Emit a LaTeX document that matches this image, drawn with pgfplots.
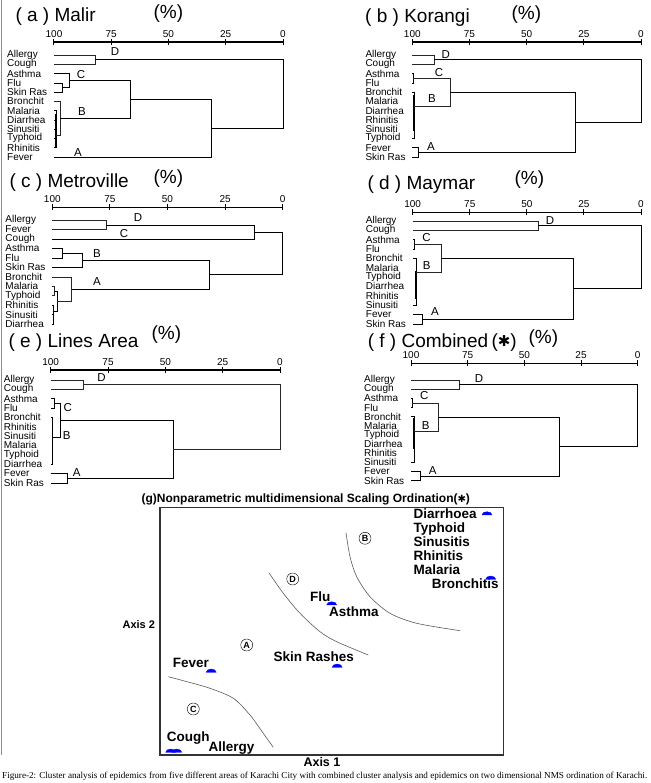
\documentclass[border=0pt]{standalone}
\usepackage{fontspec}
\setmainfont{Liberation Sans}
\newfontfamily\capfont{Liberation Serif}
\newfontfamily\dejavu{DejaVu Sans}
\usepackage{graphicx}
\usepackage{pgfplots}
\pgfplotsset{compat=1.18}

\pgfdeclareplotmark{mound}{%
  \pgfpathmoveto{\pgfqpoint{-\pgfplotmarksize}{0pt}}%
  \pgfpatharc{180}{0}{\pgfplotmarksize and 0.65\pgfplotmarksize}%
  \pgfpathclose
  \pgfusepathqfillstroke}

\newcommand\tf{\fontsize{19}{19}\selectfont}
\newcommand\lf{\fontsize{11.5}{11.5}\selectfont}
\newcommand\gf{\fontsize{13.5}{13.5}\selectfont\bfseries}

\pgfplotsset{dendro/.style={
  scale only axis, x dir=reverse, xmin=0, xmax=100, ymin=-11.5,
  axis x line*=top, axis y line*=left,
  x axis line style={-, line width=1.3pt, black},
  y axis line style={draw=none},
  ytick={0,-1,-2,-3,-4,-5,-6,-7,-8,-9,-10,-11},
  ytick style={draw=none},
  yticklabel style={anchor=west, inner sep=0pt, xshift=-44pt, font=\fontsize{10}{10}\selectfont},
  xtick={0,25,50,75,100},
  xtick style={line width=1pt, black},
  tick align=center, major tick length=6pt,
  xticklabel style={font=\fontsize{10}{10}\selectfont, inner sep=1.5pt},
  /pgf/number format/assume math mode=true,
  clip=false,
  cycle list={{black!85, solid, mark=none, line width=0.6pt}},
}}

\begin{document}
\begin{tikzpicture}[x=1pt,y=1pt]
\useasboundingbox (0,0) rectangle (650,783);
\draw[black!45, line width=0.8pt] (1.5,783) -- (1.5,28);

% ---------------- (a) Malir
\node[anchor=base west, font=\tf] at (12,761.3) {( a ) Malir};
\node[anchor=base west, font=\tf] at (150,764.7) {(\%)};
\begin{axis}[dendro, at={(54pt,621.4pt)}, anchor=south west, width=229pt, height=119.6pt, ymax=1.402,
  yticklabels={Allergy,Cough,Asthma,Flu,Skin Ras,Bronchit,Malaria,Diarrhea,Sinusiti,Typhoid,Rhinitis,Fever}]
\addplot coordinates {(100,0) (82,0) (82,-1) (100,-1)};
\addplot coordinates {(100,-3) (96.5,-3) (96.5,-4) (100,-4)};
\addplot coordinates {(100,-2) (93.3,-2) (93.3,-3.5) (96.5,-3.5)};
\addplot coordinates {(100,-6) (99,-6) (99,-10) (100,-10)};
\addplot coordinates {(100,-7) (99,-7)};
\addplot coordinates {(100,-8) (99,-8)};
\addplot coordinates {(100,-9) (99,-9)};
\addplot[line width=1.5pt, black] coordinates {(99.2,-6.4) (99.2,-10)};
\addplot coordinates {(100,-5) (97.5,-5) (97.5,-8.7) (99,-8.7)};
\addplot coordinates {(93.3,-2.75) (66.8,-2.75) (66.8,-6.85) (97.5,-6.85)};
\addplot coordinates {(100,-11) (31.4,-11) (31.4,-4.8) (66.8,-4.8)};
\addplot coordinates {(82,-0.5) (0,-0.5) (0,-7.9) (31.4,-7.9)};
\node[font=\lf] at (axis cs:73.4,0.32) {D};
\node[font=\lf] at (axis cs:88.2,-2.16) {C};
\node[font=\lf] at (axis cs:87.8,-6.15) {B};
\node[font=\lf] at (axis cs:89.5,-10.57) {A};
\end{axis}

% ---------------- (b) Korangi
\node[anchor=base west, font=\tf] at (361.7,760) {( b ) Korangi};
\node[anchor=base west, font=\tf] at (508,763.7) {(\%)};
\begin{axis}[dendro, at={(412.3pt,621.4pt)}, anchor=south west, width=228.7pt, height=119.6pt, ymax=1.402,
  yticklabels={Allergy,Cough,Asthma,Flu,Bronchit,Malaria,Diarrhea,Rhinitis,Sinusiti,Typhoid,Fever,Skin Ras}]
\addplot coordinates {(100,0) (90.5,0) (90.5,-1) (100,-1)};
\addplot coordinates {(100,-2) (99.5,-2) (99.5,-3) (100,-3)};
\addplot coordinates {(100,-4) (99.3,-4) (99.3,-9) (100,-9)};
\addplot[line width=1.4pt, black] coordinates {(99.3,-4.3) (99.3,-8.2)};
\addplot coordinates {(99.5,-2.5) (83.5,-2.5) (83.5,-5.5) (99.3,-5.5)};
\addplot coordinates {(100,-10) (97.5,-10) (97.5,-11) (100,-11)};
\addplot coordinates {(83.5,-4) (28.9,-4) (28.9,-10.5) (97.5,-10.5)};
\addplot coordinates {(90.5,-0.5) (0,-0.5) (0,-7.25) (28.9,-7.25)};
\node[font=\lf] at (axis cs:85.4,0.05) {D};
\node[font=\lf] at (axis cs:88.3,-1.94) {C};
\node[font=\lf] at (axis cs:91.4,-4.75) {B};
\node[font=\lf] at (axis cs:91.8,-9.92) {A};
\end{axis}

% ---------------- (c) Metroville
\node[anchor=base west, font=\tf] at (6,595) {( c ) Metroville};
\node[anchor=base west, font=\tf] at (150,599.7) {(\%)};
\begin{axis}[dendro, at={(52.3pt,454.3pt)}, anchor=south west, width=230.4pt, height=121.4pt, ymax=1.344,
  yticklabels={Allergy,Fever,Cough,Asthma,Flu,Skin Ras,Bronchit,Malaria,Typhoid,Rhinitis,Sinusiti,Diarrhea}]
\addplot coordinates {(100,0) (76.7,0) (76.7,-1) (100,-1)};
\addplot coordinates {(76.7,-0.5) (12.3,-0.5) (12.3,-2) (100,-2)};
\addplot coordinates {(100,-3) (95.9,-3) (95.9,-4) (100,-4)};
\addplot coordinates {(95.9,-3.5) (86.8,-3.5) (86.8,-5) (100,-5)};
\addplot coordinates {(100,-7) (99.3,-7) (99.3,-8) (100,-8)};
\addplot coordinates {(100,-9) (99.8,-9) (99.8,-11) (100,-11)};
\addplot coordinates {(100,-10) (99.8,-10)};
\addplot coordinates {(99.3,-7.5) (97.8,-7.5) (97.8,-9.7) (99.8,-9.7)};
\addplot coordinates {(100,-6) (91.6,-6) (91.6,-8.6) (97.8,-8.6)};
\addplot coordinates {(86.8,-4.25) (32,-4.25) (32,-7.3) (91.6,-7.3)};
\addplot coordinates {(12.3,-1.25) (0,-1.25) (0,-5.78) (32,-5.78)};
\node[font=\lf] at (axis cs:62.8,0.21) {D};
\node[font=\lf] at (axis cs:68.9,-1.48) {C};
\node[font=\lf] at (axis cs:80.6,-3.6) {B};
\node[font=\lf] at (axis cs:80.6,-6.56) {A};
\end{axis}

% ---------------- (d) Maymar
\node[anchor=base west, font=\tf] at (364,593) {( d ) Maymar};
\node[anchor=base west, font=\tf] at (511,598.7) {(\%)};
\begin{axis}[dendro, at={(412.7pt,454.6pt)}, anchor=south west, width=228.3pt, height=116.1pt, ymax=0.931,
  yticklabels={Allergy,Cough,Asthma,Flu,Bronchit,Malaria,Typhoid,Diarrhea,Rhinitis,Sinusiti,Fever,Skin Ras}]
\addplot coordinates {(100,0) (45,0) (45,-1) (100,-1)};
\addplot coordinates {(100,-2) (99.3,-2) (99.3,-3) (100,-3)};
\addplot coordinates {(100,-4) (98.5,-4) (98.5,-9) (100,-9)};
\addplot[line width=1.4pt, black] coordinates {(98.5,-5.4) (98.5,-8.3)};
\addplot coordinates {(99.3,-2.5) (87.6,-2.5) (87.6,-5.5) (98.5,-5.5)};
\addplot coordinates {(100,-10) (96,-10) (96,-11) (100,-11)};
\addplot coordinates {(87.6,-4) (29.9,-4) (29.9,-10.5) (96,-10.5)};
\addplot coordinates {(45,-0.5) (0,-0.5) (0,-7.25) (29.9,-7.25)};
\node[font=\lf] at (axis cs:39.9,0.1) {D};
\node[font=\lf] at (axis cs:93.9,-1.79) {C};
\node[font=\lf] at (axis cs:93.9,-4.79) {B};
\node[font=\lf] at (axis cs:90.2,-9.71) {A};
\end{axis}

% ---------------- (e) Lines Area
\node[anchor=base west, font=\tf] at (5,435.7) {( e ) Lines Area};
\node[anchor=base west, font=\tf] at (148,443) {(\%)};
\begin{axis}[dendro, at={(50.7pt,295.6pt)}, anchor=south west, width=229.3pt, height=117.4pt, ymax=1.071,
  yticklabels={Allergy,Cough,Asthma,Flu,Bronchit,Rhinitis,Sinusiti,Malaria,Typhoid,Diarrhea,Fever,Skin Ras}]
\addplot coordinates {(100,0) (85.8,0) (85.8,-1) (100,-1)};
\addplot coordinates {(100,-2) (98.6,-2) (98.6,-3) (100,-3)};
\addplot coordinates {(100,-4) (99.3,-4) (99.3,-9) (100,-9)};
\addplot[line width=1.4pt, black] coordinates {(99.3,-4.8) (99.3,-5.9)};
\addplot[line width=1.4pt, black] coordinates {(99.3,-6.8) (99.3,-7.8)};
\addplot coordinates {(98.6,-2.5) (95.9,-2.5) (95.9,-6.13) (99.3,-6.13)};
\addplot coordinates {(100,-10) (92.6,-10) (92.6,-11) (100,-11)};
\addplot coordinates {(95.9,-4.3) (46.5,-4.3) (46.5,-10.5) (92.6,-10.5)};
\addplot coordinates {(85.8,-0.5) (0,-0.5) (0,-7.4) (46.5,-7.4)};
\node[font=\lf] at (axis cs:77.8,0.29) {D};
\node[font=\lf] at (axis cs:92.6,-2.92) {C};
\node[font=\lf] at (axis cs:93.0,-6.0) {B};
\node[font=\lf] at (axis cs:88.7,-9.93) {A};
\end{axis}

% ---------------- (f) Combined
\node[anchor=base west, font=\tf] at (364.3,435.7) {( f ) Combined};
\node[anchor=base west, font=\tf] at (488,435.7) {({\dejavu\fontsize{15}{15}\selectfont\raisebox{1pt}{✱}})};
\node[anchor=base west, font=\tf] at (525,439.7) {(\%)};
\begin{axis}[dendro, at={(411pt,297.8pt)}, anchor=south west, width=226.7pt, height=121.9pt, ymax=1.825,
  yticklabels={Allergy,Cough,Asthma,Flu,Bronchit,Malaria,Typhoid,Diarrhea,Rhinitis,Sinusiti,Fever,Skin Ras}]
\addplot coordinates {(100,0) (78.7,0) (78.7,-1) (100,-1)};
\addplot coordinates {(100,-2) (99.4,-2) (99.4,-3) (100,-3)};
\addplot coordinates {(100,-4) (98.8,-4) (98.8,-9) (100,-9)};
\addplot[line width=1.4pt, black] coordinates {(98.8,-4.2) (98.8,-7.5)};
\addplot coordinates {(99.4,-2.5) (88,-2.5) (88,-5.6) (98.8,-5.6)};
\addplot coordinates {(100,-10) (96,-10) (96,-11) (100,-11)};
\addplot coordinates {(88,-4.05) (34.6,-4.05) (34.6,-10.5) (96,-10.5)};
\addplot coordinates {(78.7,-0.5) (0,-0.5) (0,-7.28) (34.6,-7.28)};
\node[font=\lf] at (axis cs:70,0.19) {D};
\node[font=\lf] at (axis cs:94.1,-1.75) {C};
\node[font=\lf] at (axis cs:93.5,-5.0) {B};
\node[font=\lf] at (axis cs:90.4,-9.91) {A};
\end{axis}

% ---------------- (g) NMS
\node[anchor=base west, font=\fontsize{12}{12}\selectfont\bfseries] at (138,280)
  {(g)Nonparametric multidimensional Scaling Ordination({\dejavu\fontsize{10}{10}\selectfont ✱})};
\node[anchor=base east, font=\fontsize{11}{11}\selectfont\bfseries] at (158.5,154.7) {Axis 2};
\node[anchor=base west, font=\fontsize{12.5}{12.5}\selectfont\bfseries] at (300,16.3) {Axis 1};
\begin{axis}[scale only axis, at={(160pt,28pt)}, anchor=south west, width=343.3pt, height=247.3pt,
  xmin=160, xmax=503.3, ymin=28, ymax=275.3, xtick=\empty, ytick=\empty,
  axis line style={line width=1.1pt, black!80}, clip=false]
\addplot[smooth, black!65, line width=0.6pt] coordinates {(346,250.3) (350,226.3) (356.7,206.3) (370,186.3) (390,169.7) (416.7,159.7) (460,152.3)};
\addplot[smooth, black!65, line width=0.6pt] coordinates {(269.3,209.7) (283.3,189.7) (300,169.7) (320,151.3) (336.7,141.3) (368.3,128)};
\addplot[smooth, black!65, line width=0.6pt] coordinates {(168.3,106.3) (183.3,102.3) (210,94.7) (233.3,84.7) (250,68) (263.3,49.7) (273.3,35.7)};
\addplot[only marks, mark=mound, mark size=5pt, mark options={fill=blue, draw=blue}] coordinates
  {(487,268) (490.7,203.7) (331.7,178) (211.2,110.7) (337.2,115.7) (170.7,30.7) (176.7,30.7)};
\node[anchor=base west, font=\gf] at (axis cs:410,264.7) {Diarrhoea};
\node[anchor=base west, font=\gf] at (axis cs:410,250.3) {Typhoid};
\node[anchor=base west, font=\gf] at (axis cs:410,236.3) {Sinusitis};
\node[anchor=base west, font=\gf] at (axis cs:410,222.3) {Rhinitis};
\node[anchor=base west, font=\gf] at (axis cs:410,208.3) {Malaria};
\node[anchor=base west, font=\gf] at (axis cs:428.3,194.7) {Bronchitis};
\node[anchor=base west, font=\gf] at (axis cs:306.7,181.3) {Flu};
\node[anchor=base west, font=\gf] at (axis cs:325.7,166.3) {Asthma};
\node[anchor=base west, font=\gf] at (axis cs:169.3,115.3) {Fever};
\node[anchor=base west, font=\gf] at (axis cs:270,121.3) {Skin Rashes};
\node[anchor=base west, font=\gf] at (axis cs:163.3,41.3) {Cough};
\node[anchor=base west, font=\gf] at (axis cs:205,31.3) {Allergy};
\node[draw, circle, minimum size=12pt, inner sep=0pt, font=\fontsize{9}{9}\selectfont\bfseries] at (axis cs:365,244.7) {B};
\node[draw, circle, minimum size=12pt, inner sep=0pt, font=\fontsize{9}{9}\selectfont\bfseries] at (axis cs:292.7,204) {D};
\node[draw, circle, minimum size=12pt, inner sep=0pt, font=\fontsize{9}{9}\selectfont\bfseries] at (axis cs:246.7,138) {A};
\node[draw, circle, minimum size=12pt, inner sep=0pt, font=\fontsize{9}{9}\selectfont\bfseries] at (axis cs:193.3,74) {C};
\end{axis}

\node[anchor=base west, inner sep=0pt] at (2,4.7) {\resizebox{645pt}{!}{\capfont\fontsize{8.5}{9}\selectfont Figure-2: Cluster analysis of epidemics from five different areas of Karachi City with combined cluster analysis and epidemics on two dimensional NMS ordination of Karachi.}};
\end{tikzpicture}
\end{document}
